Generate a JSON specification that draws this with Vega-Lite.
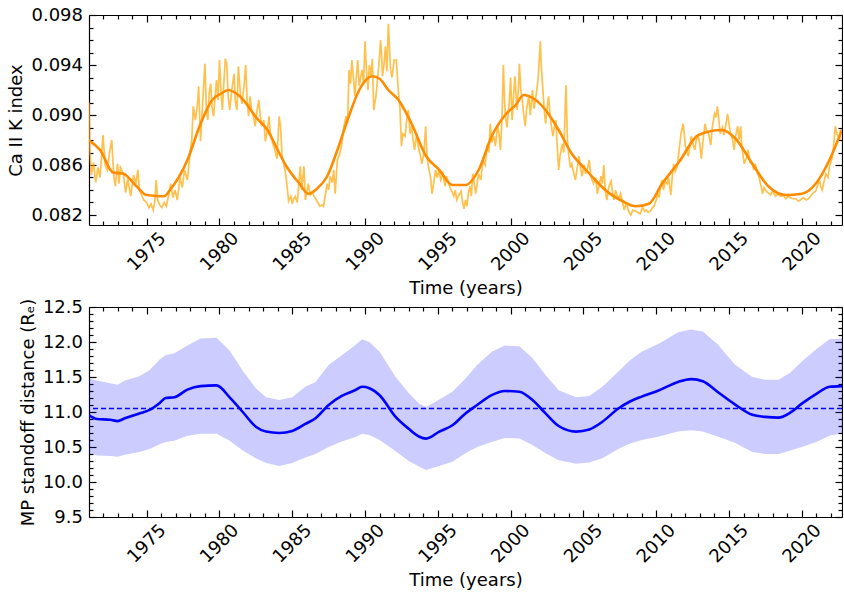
{
"$schema":"https://vega.github.io/schema/vega-lite/v6.json",
"padding":{"left":6,"top":6,"right":0,"bottom":2},
"config":{"font":"DejaVu Sans","view":{"stroke":null},
 "axis":{"grid":false,"domainColor":"#000000","domainWidth":1.2,"tickColor":"#000000","tickWidth":1.2,"labelFontSize":18,"titleFontSize":18,"labelColor":"#000000","titleColor":"#000000","titleFontWeight":"normal","labelFont":"DejaVu Sans","titleFont":"DejaVu Sans"}},
"spacing":82,
"bounds":"flush",
"datasets":{
"noisy":[
{"t":1971.04,"v":0.0910},{"t":1971.1,"v":0.0872},{"t":1971.2,"v":0.0852},{"t":1971.35,"v":0.0862},{"t":1971.5,"v":0.0846},{"t":1971.65,"v":0.0858},{"t":1971.8,"v":0.0850},{"t":1972.0,"v":0.0884},{"t":1972.15,"v":0.0860},{"t":1972.3,"v":0.0856},{"t":1972.45,"v":0.0870},{"t":1972.6,"v":0.0880},{"t":1972.75,"v":0.0850},{"t":1972.85,"v":0.0843},{"t":1973.0,"v":0.0861},{"t":1973.1,"v":0.0845},{"t":1973.2,"v":0.0858},{"t":1973.4,"v":0.0853},{"t":1973.55,"v":0.0838},{"t":1973.7,"v":0.0849},{"t":1973.9,"v":0.0835},{"t":1974.1,"v":0.0852},{"t":1974.25,"v":0.0845},{"t":1974.4,"v":0.0856},{"t":1974.5,"v":0.0840},{"t":1974.65,"v":0.0836},{"t":1974.8,"v":0.0832},{"t":1975.0,"v":0.0830},{"t":1975.15,"v":0.0826},{"t":1975.3,"v":0.0829},{"t":1975.45,"v":0.0824},{"t":1975.55,"v":0.0830},{"t":1975.66,"v":0.0848},{"t":1975.75,"v":0.0832},{"t":1975.9,"v":0.0828},{"t":1976.05,"v":0.0826},{"t":1976.2,"v":0.0830},{"t":1976.35,"v":0.0827},{"t":1976.5,"v":0.0835},{"t":1976.65,"v":0.0845},{"t":1976.8,"v":0.0834},{"t":1976.95,"v":0.0840},{"t":1977.1,"v":0.0832},{"t":1977.3,"v":0.0850},{"t":1977.45,"v":0.0842},{"t":1977.6,"v":0.0856},{"t":1977.8,"v":0.0848},{"t":1977.9,"v":0.0860},{"t":1978.0,"v":0.0872},{"t":1978.1,"v":0.0880},{"t":1978.2,"v":0.0907},{"t":1978.35,"v":0.0896},{"t":1978.5,"v":0.0910},{"t":1978.57,"v":0.0923},{"t":1978.7,"v":0.0879},{"t":1978.87,"v":0.0915},{"t":1979.0,"v":0.0941},{"t":1979.1,"v":0.0905},{"t":1979.2,"v":0.0896},{"t":1979.3,"v":0.0918},{"t":1979.4,"v":0.0925},{"t":1979.5,"v":0.0905},{"t":1979.6,"v":0.0899},{"t":1979.7,"v":0.0915},{"t":1979.8,"v":0.0928},{"t":1979.9,"v":0.0912},{"t":1980.0,"v":0.0944},{"t":1980.1,"v":0.0920},{"t":1980.2,"v":0.0904},{"t":1980.3,"v":0.0925},{"t":1980.4,"v":0.0945},{"t":1980.5,"v":0.0941},{"t":1980.6,"v":0.0915},{"t":1980.7,"v":0.0904},{"t":1980.85,"v":0.0920},{"t":1981.0,"v":0.0933},{"t":1981.1,"v":0.0910},{"t":1981.2,"v":0.0904},{"t":1981.3,"v":0.0939},{"t":1981.45,"v":0.0915},{"t":1981.55,"v":0.0909},{"t":1981.7,"v":0.0925},{"t":1981.8,"v":0.0940},{"t":1981.9,"v":0.0912},{"t":1982.0,"v":0.0899},{"t":1982.1,"v":0.0915},{"t":1982.2,"v":0.0904},{"t":1982.35,"v":0.0898},{"t":1982.45,"v":0.0891},{"t":1982.6,"v":0.0905},{"t":1982.7,"v":0.0912},{"t":1982.8,"v":0.0900},{"t":1982.9,"v":0.0891},{"t":1983.05,"v":0.0896},{"t":1983.15,"v":0.0879},{"t":1983.3,"v":0.0888},{"t":1983.4,"v":0.0899},{"t":1983.5,"v":0.0885},{"t":1983.6,"v":0.0880},{"t":1983.7,"v":0.0876},{"t":1983.8,"v":0.0872},{"t":1983.95,"v":0.0865},{"t":1984.1,"v":0.0899},{"t":1984.2,"v":0.0890},{"t":1984.3,"v":0.0867},{"t":1984.4,"v":0.0862},{"t":1984.5,"v":0.0856},{"t":1984.6,"v":0.0848},{"t":1984.75,"v":0.0831},{"t":1984.9,"v":0.0835},{"t":1985.0,"v":0.0829},{"t":1985.1,"v":0.0833},{"t":1985.2,"v":0.0835},{"t":1985.35,"v":0.0830},{"t":1985.45,"v":0.0845},{"t":1985.55,"v":0.0859},{"t":1985.65,"v":0.0840},{"t":1985.8,"v":0.0859},{"t":1985.9,"v":0.0832},{"t":1986.0,"v":0.0838},{"t":1986.1,"v":0.0845},{"t":1986.25,"v":0.0836},{"t":1986.4,"v":0.0838},{"t":1986.5,"v":0.0835},{"t":1986.65,"v":0.0832},{"t":1986.8,"v":0.0829},{"t":1986.9,"v":0.0827},{"t":1987.05,"v":0.0828},{"t":1987.15,"v":0.0827},{"t":1987.3,"v":0.0838},{"t":1987.4,"v":0.0845},{"t":1987.5,"v":0.0840},{"t":1987.6,"v":0.0851},{"t":1987.75,"v":0.0846},{"t":1987.85,"v":0.0856},{"t":1987.95,"v":0.0837},{"t":1988.1,"v":0.0864},{"t":1988.25,"v":0.0868},{"t":1988.4,"v":0.0877},{"t":1988.55,"v":0.0891},{"t":1988.7,"v":0.0899},{"t":1988.8,"v":0.0894},{"t":1988.9,"v":0.0936},{"t":1989.0,"v":0.0925},{"t":1989.1,"v":0.0944},{"t":1989.2,"v":0.0930},{"t":1989.3,"v":0.0915},{"t":1989.4,"v":0.0930},{"t":1989.5,"v":0.0944},{"t":1989.6,"v":0.0923},{"t":1989.7,"v":0.0930},{"t":1989.8,"v":0.0936},{"t":1989.9,"v":0.0925},{"t":1990.0,"v":0.0959},{"t":1990.1,"v":0.0935},{"t":1990.2,"v":0.0920},{"t":1990.3,"v":0.0940},{"t":1990.4,"v":0.0931},{"t":1990.5,"v":0.0945},{"t":1990.6,"v":0.0904},{"t":1990.75,"v":0.0915},{"t":1990.85,"v":0.0928},{"t":1990.95,"v":0.0940},{"t":1991.07,"v":0.0960},{"t":1991.15,"v":0.0945},{"t":1991.2,"v":0.0931},{"t":1991.3,"v":0.0940},{"t":1991.4,"v":0.0955},{"t":1991.5,"v":0.0935},{"t":1991.6,"v":0.0973},{"t":1991.7,"v":0.0950},{"t":1991.75,"v":0.0936},{"t":1991.85,"v":0.0930},{"t":1992.0,"v":0.0944},{"t":1992.15,"v":0.0944},{"t":1992.3,"v":0.0917},{"t":1992.4,"v":0.0905},{"t":1992.5,"v":0.0875},{"t":1992.6,"v":0.0885},{"t":1992.75,"v":0.0883},{"t":1992.85,"v":0.0895},{"t":1992.97,"v":0.0904},{"t":1993.1,"v":0.0885},{"t":1993.2,"v":0.0891},{"t":1993.3,"v":0.0880},{"t":1993.4,"v":0.0872},{"t":1993.55,"v":0.0885},{"t":1993.65,"v":0.0875},{"t":1993.8,"v":0.0868},{"t":1993.9,"v":0.0861},{"t":1994.05,"v":0.0870},{"t":1994.16,"v":0.0891},{"t":1994.25,"v":0.0868},{"t":1994.35,"v":0.0859},{"t":1994.5,"v":0.0850},{"t":1994.6,"v":0.0837},{"t":1994.75,"v":0.0848},{"t":1994.85,"v":0.0856},{"t":1994.95,"v":0.0850},{"t":1995.08,"v":0.0856},{"t":1995.2,"v":0.0848},{"t":1995.35,"v":0.0853},{"t":1995.5,"v":0.0843},{"t":1995.6,"v":0.0851},{"t":1995.75,"v":0.0845},{"t":1995.9,"v":0.0840},{"t":1996.0,"v":0.0838},{"t":1996.1,"v":0.0835},{"t":1996.2,"v":0.0840},{"t":1996.3,"v":0.0832},{"t":1996.45,"v":0.0836},{"t":1996.6,"v":0.0839},{"t":1996.7,"v":0.0830},{"t":1996.8,"v":0.0825},{"t":1996.9,"v":0.0832},{"t":1997.0,"v":0.0827},{"t":1997.1,"v":0.0838},{"t":1997.2,"v":0.0843},{"t":1997.3,"v":0.0835},{"t":1997.4,"v":0.0853},{"t":1997.5,"v":0.0846},{"t":1997.6,"v":0.0837},{"t":1997.7,"v":0.0845},{"t":1997.8,"v":0.0853},{"t":1997.95,"v":0.0848},{"t":1998.1,"v":0.0864},{"t":1998.25,"v":0.0860},{"t":1998.4,"v":0.0877},{"t":1998.5,"v":0.0870},{"t":1998.6,"v":0.0893},{"t":1998.7,"v":0.0878},{"t":1998.85,"v":0.0883},{"t":1998.95,"v":0.0875},{"t":1999.1,"v":0.0891},{"t":1999.2,"v":0.0885},{"t":1999.3,"v":0.0872},{"t":1999.4,"v":0.0895},{"t":1999.5,"v":0.0940},{"t":1999.58,"v":0.0912},{"t":1999.65,"v":0.0899},{"t":1999.75,"v":0.0890},{"t":1999.9,"v":0.0909},{"t":2000.0,"v":0.0930},{"t":2000.1,"v":0.0896},{"t":2000.2,"v":0.0915},{"t":2000.3,"v":0.0931},{"t":2000.4,"v":0.0910},{"t":2000.45,"v":0.0904},{"t":2000.55,"v":0.0925},{"t":2000.6,"v":0.0941},{"t":2000.7,"v":0.0920},{"t":2000.8,"v":0.0912},{"t":2000.9,"v":0.0900},{"t":2001.0,"v":0.0891},{"t":2001.1,"v":0.0905},{"t":2001.25,"v":0.0915},{"t":2001.35,"v":0.0900},{"t":2001.5,"v":0.0920},{"t":2001.6,"v":0.0905},{"t":2001.7,"v":0.0912},{"t":2001.8,"v":0.0920},{"t":2001.9,"v":0.0931},{"t":2001.97,"v":0.0945},{"t":2002.04,"v":0.0959},{"t":2002.1,"v":0.0940},{"t":2002.2,"v":0.0923},{"t":2002.3,"v":0.0905},{"t":2002.4,"v":0.0893},{"t":2002.5,"v":0.0905},{"t":2002.6,"v":0.0915},{"t":2002.75,"v":0.0895},{"t":2002.9,"v":0.0883},{"t":2003.0,"v":0.0890},{"t":2003.1,"v":0.0896},{"t":2003.2,"v":0.0875},{"t":2003.3,"v":0.0856},{"t":2003.4,"v":0.0868},{"t":2003.55,"v":0.0877},{"t":2003.65,"v":0.0870},{"t":2003.8,"v":0.0924},{"t":2003.9,"v":0.0880},{"t":2004.0,"v":0.0867},{"t":2004.1,"v":0.0858},{"t":2004.2,"v":0.0861},{"t":2004.3,"v":0.0855},{"t":2004.45,"v":0.0848},{"t":2004.55,"v":0.0856},{"t":2004.7,"v":0.0867},{"t":2004.8,"v":0.0858},{"t":2004.9,"v":0.0851},{"t":2005.05,"v":0.0860},{"t":2005.15,"v":0.0853},{"t":2005.3,"v":0.0858},{"t":2005.4,"v":0.0864},{"t":2005.5,"v":0.0851},{"t":2005.6,"v":0.0848},{"t":2005.7,"v":0.0845},{"t":2005.85,"v":0.0850},{"t":2005.95,"v":0.0837},{"t":2006.1,"v":0.0845},{"t":2006.2,"v":0.0851},{"t":2006.3,"v":0.0845},{"t":2006.4,"v":0.0860},{"t":2006.5,"v":0.0840},{"t":2006.6,"v":0.0832},{"t":2006.75,"v":0.0843},{"t":2006.9,"v":0.0847},{"t":2007.0,"v":0.0838},{"t":2007.1,"v":0.0832},{"t":2007.2,"v":0.0840},{"t":2007.3,"v":0.0836},{"t":2007.45,"v":0.0833},{"t":2007.55,"v":0.0837},{"t":2007.7,"v":0.0830},{"t":2007.8,"v":0.0824},{"t":2007.9,"v":0.0828},{"t":2008.0,"v":0.0827},{"t":2008.1,"v":0.0823},{"t":2008.25,"v":0.0820},{"t":2008.4,"v":0.0824},{"t":2008.6,"v":0.0823},{"t":2008.75,"v":0.0822},{"t":2008.9,"v":0.0821},{"t":2009.05,"v":0.0826},{"t":2009.2,"v":0.0823},{"t":2009.3,"v":0.0824},{"t":2009.45,"v":0.0822},{"t":2009.6,"v":0.0823},{"t":2009.75,"v":0.0826},{"t":2009.85,"v":0.0827},{"t":2010.0,"v":0.0832},{"t":2010.1,"v":0.0837},{"t":2010.2,"v":0.0834},{"t":2010.3,"v":0.0843},{"t":2010.4,"v":0.0848},{"t":2010.5,"v":0.0840},{"t":2010.6,"v":0.0847},{"t":2010.75,"v":0.0845},{"t":2010.85,"v":0.0850},{"t":2011.0,"v":0.0836},{"t":2011.1,"v":0.0850},{"t":2011.2,"v":0.0861},{"t":2011.3,"v":0.0855},{"t":2011.45,"v":0.0859},{"t":2011.55,"v":0.0870},{"t":2011.7,"v":0.0885},{"t":2011.85,"v":0.0893},{"t":2011.95,"v":0.0882},{"t":2012.0,"v":0.0875},{"t":2012.1,"v":0.0872},{"t":2012.2,"v":0.0867},{"t":2012.3,"v":0.0874},{"t":2012.4,"v":0.0883},{"t":2012.5,"v":0.0878},{"t":2012.65,"v":0.0872},{"t":2012.75,"v":0.0880},{"t":2012.9,"v":0.0883},{"t":2013.0,"v":0.0876},{"t":2013.1,"v":0.0865},{"t":2013.2,"v":0.0878},{"t":2013.35,"v":0.0893},{"t":2013.45,"v":0.0887},{"t":2013.6,"v":0.0885},{"t":2013.75,"v":0.0876},{"t":2013.85,"v":0.0890},{"t":2014.0,"v":0.0901},{"t":2014.1,"v":0.0898},{"t":2014.2,"v":0.0907},{"t":2014.3,"v":0.0896},{"t":2014.4,"v":0.0885},{"t":2014.55,"v":0.0890},{"t":2014.65,"v":0.0884},{"t":2014.8,"v":0.0893},{"t":2014.9,"v":0.0901},{"t":2015.0,"v":0.0893},{"t":2015.1,"v":0.0885},{"t":2015.25,"v":0.0880},{"t":2015.35,"v":0.0872},{"t":2015.45,"v":0.0883},{"t":2015.6,"v":0.0891},{"t":2015.7,"v":0.0880},{"t":2015.8,"v":0.0891},{"t":2015.9,"v":0.0872},{"t":2016.05,"v":0.0861},{"t":2016.2,"v":0.0866},{"t":2016.3,"v":0.0872},{"t":2016.45,"v":0.0862},{"t":2016.6,"v":0.0861},{"t":2016.7,"v":0.0856},{"t":2016.8,"v":0.0861},{"t":2016.95,"v":0.0853},{"t":2017.05,"v":0.0851},{"t":2017.2,"v":0.0843},{"t":2017.3,"v":0.0837},{"t":2017.4,"v":0.0842},{"t":2017.5,"v":0.0840},{"t":2017.65,"v":0.0838},{"t":2017.85,"v":0.0836},{"t":2018.0,"v":0.0839},{"t":2018.2,"v":0.0835},{"t":2018.35,"v":0.0837},{"t":2018.55,"v":0.0835},{"t":2018.7,"v":0.0836},{"t":2018.9,"v":0.0833},{"t":2019.05,"v":0.0835},{"t":2019.2,"v":0.0834},{"t":2019.4,"v":0.0833},{"t":2019.6,"v":0.0833},{"t":2019.75,"v":0.0831},{"t":2019.9,"v":0.0832},{"t":2020.1,"v":0.0834},{"t":2020.3,"v":0.0832},{"t":2020.45,"v":0.0833},{"t":2020.6,"v":0.0835},{"t":2020.8,"v":0.0838},{"t":2020.95,"v":0.0839},{"t":2021.1,"v":0.0844},{"t":2021.2,"v":0.0848},{"t":2021.3,"v":0.0843},{"t":2021.4,"v":0.0840},{"t":2021.55,"v":0.0848},{"t":2021.65,"v":0.0853},{"t":2021.8,"v":0.0850},{"t":2021.9,"v":0.0859},{"t":2022.0,"v":0.0862},{"t":2022.1,"v":0.0867},{"t":2022.2,"v":0.0878},{"t":2022.3,"v":0.0891},{"t":2022.4,"v":0.0885},{"t":2022.5,"v":0.0883},{"t":2022.6,"v":0.0880},{"t":2022.65,"v":0.0888},{"t":2022.75,"v":0.0885}
],
"smooth":[
{"t":1971.0,"v":0.0880},{"t":1971.8,"v":0.0872},{"t":1972.7,"v":0.0854},{"t":1973.4,"v":0.0853},{"t":1974.3,"v":0.0843},{"t":1975.0,"v":0.0836},{"t":1976.2,"v":0.0835},{"t":1976.6,"v":0.0840},{"t":1977.8,"v":0.0864},{"t":1978.7,"v":0.0893},{"t":1979.5,"v":0.0912},{"t":1980.1,"v":0.0917},{"t":1980.6,"v":0.0920},{"t":1981.4,"v":0.0915},{"t":1982.6,"v":0.0897},{"t":1983.3,"v":0.0888},{"t":1984.0,"v":0.0872},{"t":1984.6,"v":0.0859},{"t":1985.5,"v":0.0845},{"t":1986.1,"v":0.0837},{"t":1986.7,"v":0.0841},{"t":1987.4,"v":0.0851},{"t":1988.1,"v":0.0872},{"t":1988.8,"v":0.0896},{"t":1989.6,"v":0.0920},{"t":1990.5,"v":0.0931},{"t":1991.0,"v":0.0929},{"t":1991.6,"v":0.0920},{"t":1992.3,"v":0.0912},{"t":1993.2,"v":0.0893},{"t":1994.2,"v":0.0867},{"t":1995.1,"v":0.0856},{"t":1996.0,"v":0.0844},{"t":1996.9,"v":0.0844},{"t":1997.8,"v":0.0856},{"t":1998.7,"v":0.0883},{"t":1999.7,"v":0.0901},{"t":2000.35,"v":0.0908},{"t":2000.9,"v":0.0916},{"t":2001.6,"v":0.0913},{"t":2002.4,"v":0.0904},{"t":2003.3,"v":0.0888},{"t":2004.2,"v":0.0869},{"t":2005.1,"v":0.0857},{"t":2005.9,"v":0.0847},{"t":2006.5,"v":0.0840},{"t":2007.7,"v":0.0831},{"t":2008.6,"v":0.0827},{"t":2009.5,"v":0.0829},{"t":2010.4,"v":0.0845},{"t":2011.6,"v":0.0863},{"t":2012.9,"v":0.0884},{"t":2014.5,"v":0.0888},{"t":2015.45,"v":0.0881},{"t":2016.6,"v":0.0861},{"t":2017.7,"v":0.0843},{"t":2018.9,"v":0.0836},{"t":2020.0,"v":0.0837},{"t":2020.95,"v":0.0845},{"t":2021.9,"v":0.0864},{"t":2022.76,"v":0.0888}
],
"mp":[
{"t":1971.0,"m":10.96,"lo":10.41,"hi":11.48},{"t":1971.6,"m":10.90,"lo":10.38,"hi":11.45},{"t":1972.5,"m":10.89,"lo":10.37,"hi":11.41},{"t":1973.0,"m":10.87,"lo":10.36,"hi":11.39},{"t":1973.5,"m":10.91,"lo":10.39,"hi":11.45},{"t":1974.5,"m":10.98,"lo":10.43,"hi":11.51},{"t":1975.2,"m":11.03,"lo":10.47,"hi":11.60},{"t":1975.9,"m":11.13,"lo":10.54,"hi":11.75},{"t":1976.3,"m":11.20,"lo":10.57,"hi":11.81},{"t":1976.9,"m":11.21,"lo":10.59,"hi":11.84},{"t":1977.8,"m":11.32,"lo":10.66,"hi":11.95},{"t":1978.7,"m":11.37,"lo":10.69,"hi":12.05},{"t":1979.8,"m":11.38,"lo":10.69,"hi":12.06},{"t":1980.7,"m":11.21,"lo":10.59,"hi":11.88},{"t":1981.6,"m":11.00,"lo":10.45,"hi":11.59},{"t":1982.5,"m":10.79,"lo":10.34,"hi":11.34},{"t":1983.2,"m":10.72,"lo":10.27,"hi":11.21},{"t":1984.1,"m":10.70,"lo":10.23,"hi":11.17},{"t":1985.0,"m":10.73,"lo":10.27,"hi":11.21},{"t":1985.9,"m":10.83,"lo":10.35,"hi":11.36},{"t":1986.6,"m":10.91,"lo":10.40,"hi":11.43},{"t":1987.5,"m":11.10,"lo":10.50,"hi":11.67},{"t":1988.4,"m":11.23,"lo":10.58,"hi":11.81},{"t":1989.3,"m":11.31,"lo":10.64,"hi":11.95},{"t":1989.8,"m":11.36,"lo":10.69,"hi":12.04},{"t":1990.3,"m":11.34,"lo":10.67,"hi":12.00},{"t":1991.0,"m":11.24,"lo":10.60,"hi":11.86},{"t":1992.1,"m":10.93,"lo":10.44,"hi":11.50},{"t":1993.0,"m":10.76,"lo":10.30,"hi":11.27},{"t":1993.7,"m":10.65,"lo":10.22,"hi":11.12},{"t":1994.2,"m":10.62,"lo":10.17,"hi":11.07},{"t":1995.1,"m":10.72,"lo":10.23,"hi":11.18},{"t":1996.0,"m":10.81,"lo":10.29,"hi":11.29},{"t":1996.9,"m":10.98,"lo":10.41,"hi":11.48},{"t":1997.7,"m":11.10,"lo":10.50,"hi":11.67},{"t":1998.7,"m":11.24,"lo":10.57,"hi":11.86},{"t":1999.6,"m":11.30,"lo":10.63,"hi":11.95},{"t":2000.6,"m":11.29,"lo":10.62,"hi":11.94},{"t":2001.5,"m":11.17,"lo":10.53,"hi":11.77},{"t":2002.4,"m":10.98,"lo":10.41,"hi":11.53},{"t":2003.3,"m":10.80,"lo":10.31,"hi":11.31},{"t":2004.5,"m":10.72,"lo":10.26,"hi":11.21},{"t":2005.4,"m":10.75,"lo":10.28,"hi":11.23},{"t":2006.3,"m":10.86,"lo":10.34,"hi":11.36},{"t":2007.4,"m":11.05,"lo":10.47,"hi":11.58},{"t":2008.2,"m":11.15,"lo":10.55,"hi":11.74},{"t":2009.0,"m":11.22,"lo":10.60,"hi":11.86},{"t":2010.2,"m":11.31,"lo":10.65,"hi":11.98},{"t":2011.5,"m":11.43,"lo":10.72,"hi":12.14},{"t":2012.4,"m":11.47,"lo":10.74,"hi":12.18},{"t":2013.2,"m":11.44,"lo":10.72,"hi":12.15},{"t":2014.2,"m":11.29,"lo":10.65,"hi":11.97},{"t":2015.4,"m":11.11,"lo":10.56,"hi":11.68},{"t":2016.6,"m":10.96,"lo":10.43,"hi":11.50},{"t":2017.5,"m":10.93,"lo":10.40,"hi":11.46},{"t":2018.4,"m":10.92,"lo":10.40,"hi":11.46},{"t":2019.2,"m":10.99,"lo":10.45,"hi":11.56},{"t":2020.0,"m":11.12,"lo":10.50,"hi":11.72},{"t":2021.0,"m":11.26,"lo":10.57,"hi":11.90},{"t":2021.9,"m":11.36,"lo":10.66,"hi":12.04},{"t":2022.76,"m":11.37,"lo":10.70,"hi":12.05}
],
"meanline":[{"mean":11.05}]
},
"vconcat":[
{"width":753,"height":210,
 "layer":[
  {"data":{"name":"noisy"},"mark":{"type":"line","stroke":"#FFA500","opacity":0.7,"strokeWidth":1.7,"clip":true},
   "encoding":{
    "x":{"field":"t","type":"quantitative","scale":{"domain":[1971.04,2022.76],"nice":false,"zero":false},
     "axis":{"orient":"bottom","values":[1971,1972,1973,1974,1975,1976,1977,1978,1979,1980,1981,1982,1983,1984,1985,1986,1987,1988,1989,1990,1991,1992,1993,1994,1995,1996,1997,1998,1999,2000,2001,2002,2003,2004,2005,2006,2007,2008,2009,2010,2011,2012,2013,2014,2015,2016,2017,2018,2019,2020,2021,2022],"format":"d","labelExpr":"datum.value % 5 === 0 ? datum.label : ''","tickSize":{"condition":{"test":"datum.value % 5 === 0","value":-7},"value":-4},"labelAngle":-45,"labelAlign":"center","labelBaseline":"middle","labelPadding":33.5,"labelOverlap":false,"labelFlush":false,"title":"Time (years)","titleX":376.5,"titleY":68,"titleBaseline":"alphabetic","titleAlign":"center","titleAnchor":null}},
    "y":{"field":"v","type":"quantitative","scale":{"domain":[0.0812,0.098],"nice":false,"zero":false},
     "axis":{"orient":"left","values":[0.082,0.083,0.084,0.085,0.086,0.087,0.088,0.089,0.09,0.091,0.092,0.093,0.094,0.095,0.096,0.097,0.098],"format":".3f","labelExpr":"round(datum.value*1000) % 4 === 2 ? datum.label : ''","tickSize":{"condition":{"test":"round(datum.value*1000) % 4 === 2","value":-7},"value":-4},"labelPadding":13.5,"labelOverlap":false,"labelFlush":false,"title":"Ca II K index","titleX":-68,"titleY":105,"titleBaseline":"alphabetic","titleAlign":"center","titleAngle":-90}}}},
  {"data":{"name":"smooth"},"mark":{"type":"line","stroke":"#FF8C00","strokeWidth":2.6,"interpolate":"monotone","clip":true},
   "encoding":{
    "x":{"field":"t","type":"quantitative","scale":{"domain":[1971.04,2022.76],"nice":false,"zero":false},
     "axis":{"orient":"top","values":[1971,1972,1973,1974,1975,1976,1977,1978,1979,1980,1981,1982,1983,1984,1985,1986,1987,1988,1989,1990,1991,1992,1993,1994,1995,1996,1997,1998,1999,2000,2001,2002,2003,2004,2005,2006,2007,2008,2009,2010,2011,2012,2013,2014,2015,2016,2017,2018,2019,2020,2021,2022],"labels":false,"title":null,"tickSize":{"condition":{"test":"datum.value % 5 === 0","value":-7},"value":-4}}},
    "y":{"field":"v","type":"quantitative","scale":{"domain":[0.0812,0.098],"nice":false,"zero":false},
     "axis":{"orient":"right","values":[0.082,0.083,0.084,0.085,0.086,0.087,0.088,0.089,0.09,0.091,0.092,0.093,0.094,0.095,0.096,0.097,0.098],"labels":false,"title":null,"tickSize":{"condition":{"test":"round(datum.value*1000) % 4 === 2","value":-7},"value":-4}}}}}
 ],
 "resolve":{"axis":{"x":"independent","y":"independent"}}
},
{"width":753,"height":210,
 "layer":[
  {"data":{"name":"mp"},"mark":{"type":"area","fill":"#0000FF","opacity":0.2,"clip":true},
   "encoding":{
    "x":{"field":"t","type":"quantitative","scale":{"domain":[1971.04,2022.76],"nice":false,"zero":false},
     "axis":{"orient":"bottom","values":[1971,1972,1973,1974,1975,1976,1977,1978,1979,1980,1981,1982,1983,1984,1985,1986,1987,1988,1989,1990,1991,1992,1993,1994,1995,1996,1997,1998,1999,2000,2001,2002,2003,2004,2005,2006,2007,2008,2009,2010,2011,2012,2013,2014,2015,2016,2017,2018,2019,2020,2021,2022],"format":"d","labelExpr":"datum.value % 5 === 0 ? datum.label : ''","tickSize":{"condition":{"test":"datum.value % 5 === 0","value":-7},"value":-4},"labelAngle":-45,"labelAlign":"center","labelBaseline":"middle","labelPadding":33.5,"labelOverlap":false,"labelFlush":false,"title":"Time (years)","titleX":376.5,"titleY":68,"titleBaseline":"alphabetic","titleAlign":"center","titleAnchor":null}},
    "y":{"field":"lo","type":"quantitative","scale":{"domain":[9.5,12.5],"nice":false,"zero":false},
     "axis":{"orient":"left","values":[9.5,9.6,9.7,9.8,9.9,10,10.1,10.2,10.3,10.4,10.5,10.6,10.7,10.8,10.9,11,11.1,11.2,11.3,11.4,11.5,11.6,11.7,11.8,11.9,12,12.1,12.2,12.3,12.4,12.5],"format":".1f","labelExpr":"round(datum.value*10) % 5 === 0 ? datum.label : ''","tickSize":{"condition":{"test":"round(datum.value*10) % 5 === 0","value":-7},"value":-4},"labelPadding":13.5,"labelOverlap":false,"labelFlush":false,"title":"MP standoff distance (Rₑ)","titleX":-56,"titleY":105,"titleBaseline":"alphabetic","titleAlign":"center","titleAngle":-90}},
    "y2":{"field":"hi"}}},
  {"data":{"name":"meanline"},"mark":{"type":"rule","stroke":"#0000FF","strokeWidth":1.3,"strokeDash":[5,3]},
   "encoding":{"y":{"field":"mean","type":"quantitative","scale":{"domain":[9.5,12.5],"nice":false,"zero":false},"axis":null}}},
  {"data":{"name":"mp"},"mark":{"type":"line","stroke":"#0000FF","strokeWidth":2.6,"interpolate":"monotone","clip":true},
   "encoding":{
    "x":{"field":"t","type":"quantitative","scale":{"domain":[1971.04,2022.76],"nice":false,"zero":false},
     "axis":{"orient":"top","values":[1971,1972,1973,1974,1975,1976,1977,1978,1979,1980,1981,1982,1983,1984,1985,1986,1987,1988,1989,1990,1991,1992,1993,1994,1995,1996,1997,1998,1999,2000,2001,2002,2003,2004,2005,2006,2007,2008,2009,2010,2011,2012,2013,2014,2015,2016,2017,2018,2019,2020,2021,2022],"labels":false,"title":null,"tickSize":{"condition":{"test":"datum.value % 5 === 0","value":-7},"value":-4}}},
    "y":{"field":"m","type":"quantitative","scale":{"domain":[9.5,12.5],"nice":false,"zero":false},
     "axis":{"orient":"right","values":[9.5,9.6,9.7,9.8,9.9,10,10.1,10.2,10.3,10.4,10.5,10.6,10.7,10.8,10.9,11,11.1,11.2,11.3,11.4,11.5,11.6,11.7,11.8,11.9,12,12.1,12.2,12.3,12.4,12.5],"labels":false,"title":null,"tickSize":{"condition":{"test":"round(datum.value*10) % 5 === 0","value":-7},"value":-4}}}}}
 ],
 "resolve":{"axis":{"x":"independent","y":"independent"}}
}
]
}
